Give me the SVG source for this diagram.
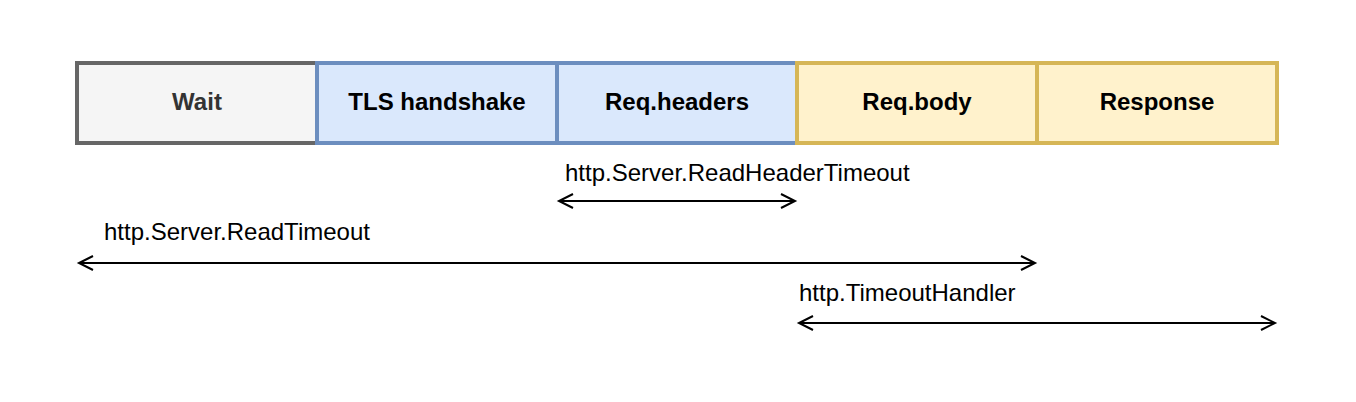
<svg xmlns="http://www.w3.org/2000/svg" width="1356" height="402" viewBox="0 0 1356 402">
<style>
.box{stroke-width:4}
.gray{fill:#f5f5f5;stroke:#666666}
.blue{fill:#dae8fc;stroke:#6c8ebf}
.yellow{fill:#fff2cc;stroke:#d6b656}
.bt{font-family:"Liberation Sans",Arial,sans-serif;font-size:24px;font-weight:bold;text-anchor:middle;fill:#000}
.lt{font-family:"Liberation Sans",Arial,sans-serif;font-size:24px;fill:#000}
.conn{stroke:#000;stroke-width:2;fill:none}
</style>
<defs>
<marker id="open" markerUnits="userSpaceOnUse" markerWidth="20" markerHeight="20" viewBox="-1 -10 20 20" refX="0" refY="0" orient="auto-start-reverse" overflow="visible">
<path d="M-14,-7 L0,0 L-14,7" fill="none" stroke="#000" stroke-width="2"/>
</marker>
</defs>
<rect width="1356" height="402" fill="#ffffff"/>
<g id="wait"><rect class="box gray" x="77" y="63" width="240" height="80"/><text class="bt" x="197" y="110" style="fill:#333333">Wait</text></g>
<g id="tls"><rect class="box blue" x="317" y="63" width="240" height="80"/><text class="bt" x="437" y="110">TLS handshake</text></g>
<g id="reqheaders"><rect class="box blue" x="557" y="63" width="240" height="80"/><text class="bt" x="677" y="110">Req.headers</text></g>
<g id="reqbody"><rect class="box yellow" x="797" y="63" width="240" height="80"/><text class="bt" x="917" y="110">Req.body</text></g>
<g id="response"><rect class="box yellow" x="1037" y="63" width="240" height="80"/><text class="bt" x="1157" y="110">Response</text></g>
<g id="connectors">
<line class="conn" x1="559" y1="201" x2="795" y2="201" marker-start="url(#open)" marker-end="url(#open)"/>
<text class="lt" x="565" y="181">http.Server.ReadHeaderTimeout</text>
<line class="conn" x1="79" y1="263" x2="1035" y2="263" marker-start="url(#open)" marker-end="url(#open)"/>
<text class="lt" x="104" y="240">http.Server.ReadTimeout</text>
<line class="conn" x1="799" y1="323" x2="1275" y2="323" marker-start="url(#open)" marker-end="url(#open)"/>
<text class="lt" x="799" y="301">http.TimeoutHandler</text>
</g>
</svg>
